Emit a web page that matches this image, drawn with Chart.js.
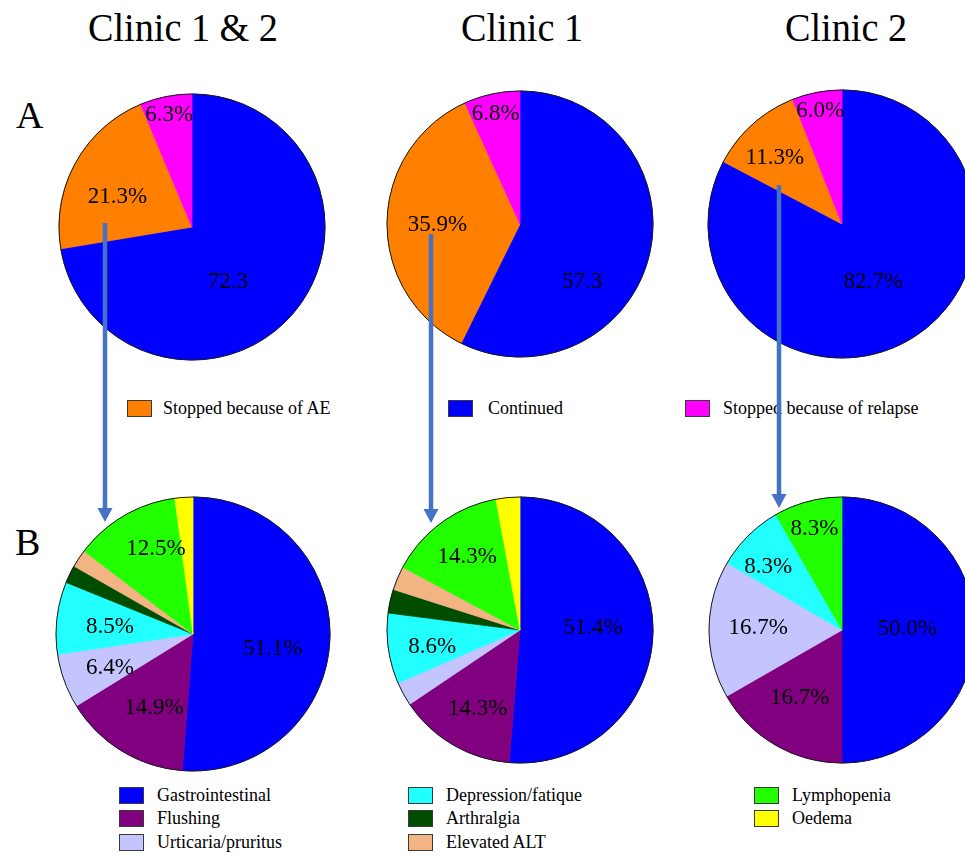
<!DOCTYPE html>
<html>
<head>
<meta charset="utf-8">
<title>Outcome and adverse events by clinic</title>
<script src="https://cdn.jsdelivr.net/npm/chart.js@4.4.1/dist/chart.umd.min.js"></script>
<style>
  html, body { margin: 0; padding: 0; background: #fff; }
  #page { position: relative; width: 965px; height: 854px; overflow: hidden; background: #fff;
          font-family: "Liberation Serif", "Times New Roman", Times, "DejaVu Serif", serif; color: #000; }
  .title { position: absolute; top: 8px; font-size: 40px; line-height: 1; white-space: nowrap;
           transform: translateX(-50%) scaleX(0.955); }
  .panel { position: absolute; font-size: 38px; line-height: 1; }
  .pie { position: absolute; }
  .leg { position: absolute; font-size: 18px; line-height: 1; white-space: nowrap; }
  .leg .sw { position: absolute; width: 23px; height: 15px; border: 1px solid #3a3a3a; }
  .leg .tx { position: absolute; }
  #arrows { position: absolute; left: 0; top: 0; z-index: 5; }
</style>
</head>
<body>
<div id="page"></div>
<script>
// Panel titles
const clinics = ['Clinic 1 & 2', 'Clinic 1', 'Clinic 2'];

// A: treatment outcome
const outcomeCats = ['Continued', 'Stopped because of AE', 'Stopped because of relapse'];
const outcomeBoth = [72.3, 21.3, 6.3];
const outcomeC1 = [57.3, 35.9, 6.8];
const outcomeC2 = [82.7, 11.3, 6.0];
const outcomeTextBoth = ['72.3', '21.3%', '6.3%'];
const outcomeTextC1 = ['57.3', '35.9%', '6.8%'];
const outcomeTextC2 = ['82.7%', '11.3%', '6.0%'];

// B: adverse events leading to discontinuation
const aeCats = ['Gastrointestinal', 'Flushing', 'Urticaria/pruritus', 'Depression/fatique',
                'Arthralgia', 'Elevated ALT', 'Lymphopenia', 'Oedema'];
const aeBoth = [51.1, 14.9, 6.4, 8.5, 2.1, 2.1, 12.5, 2.1];
const aeC1 = [51.4, 14.3, 2.9, 8.6, 2.9, 2.9, 14.3, 2.9];
const aeC2 = [50.0, 16.7, 16.7, 8.3, 0, 0, 8.3, 0];
const aeTextBoth = ['51.1%', '14.9%', '6.4%', '8.5%', '', '', '12.5%', ''];
const aeTextC1 = ['51.4%', '14.3%', '', '8.6%', '', '', '14.3%', ''];
const aeTextC2 = ['50.0%', '16.7%', '16.7%', '8.3%', '', '', '8.3%', ''];

// Colours
const outcomeColors = ['#0000ff', '#ff8000', '#ff00ff'];
const aeColors = ['#0000ff', '#800080', '#c4c4ff', '#22ffff', '#004d00', '#f2b482', '#22ff00', '#ffff00'];

const page = document.getElementById('page');

// Pick a Times-metric serif face if one is installed
function hasFont(name) {
  const c = document.createElement('canvas').getContext('2d');
  const s = 'Clinic 1 & 2 Gastrointestinal';
  c.font = '40px monospace';
  const mono = c.measureText(s).width;
  c.font = `40px "${name}", monospace`;
  return Math.abs(c.measureText(s).width - mono) > 0.5;
}
const serifCandidates = ['Liberation Serif', 'Times New Roman', 'Tinos', 'Nimbus Roman', 'DejaVu Serif', 'Noto Serif'];
const serifFace = serifCandidates.find(hasFont) || 'serif';
const faceCss = `"${serifFace}", serif`;
page.style.fontFamily = faceCss;
// wider faces get squeezed back to Times-like widths
const squeeze = (serifFace === 'DejaVu Serif' || serifFace === 'Noto Serif') ? 0.82 : 1;

// Titles and panel letters
const titleX = [183, 522, 846];
clinics.forEach((t, i) => {
  const d = document.createElement('div');
  d.className = 'title';
  d.style.left = titleX[i] + 'px';
  d.style.transform = `translateX(-50%) scaleX(${0.955 * squeeze})`;
  d.textContent = t;
  page.appendChild(d);
});
[['A', 16, 96], ['B', 15, 523]].forEach(([t, x, y]) => {
  const d = document.createElement('div');
  d.className = 'panel';
  d.style.left = x + 'px';
  d.style.top = y + 'px';
  d.textContent = t;
  page.appendChild(d);
});

// Thin outline around the whole pie
const rimPlugin = {
  id: 'rim',
  afterDatasetsDraw(chart) {
    const arc = chart.getDatasetMeta(0).data[0];
    if (!arc) return;
    const { x, y, outerRadius } = arc.getProps(['x', 'y', 'outerRadius'], true);
    const ctx = chart.ctx;
    ctx.save();
    ctx.beginPath();
    ctx.arc(x, y, outerRadius, 0, Math.PI * 2);
    ctx.lineWidth = 1;
    ctx.strokeStyle = '#1a1a1a';
    ctx.stroke();
    ctx.restore();
  }
};

// Percentage text inside each slice
const sliceTextPlugin = {
  id: 'sliceText',
  afterDatasetsDraw(chart, args, opts) {
    const ctx = chart.ctx;
    const meta = chart.getDatasetMeta(0);
    const size = 23;
    ctx.save();
    ctx.font = `${size}px ${faceCss}`;
    ctx.textAlign = 'center';
    ctx.textBaseline = 'alphabetic';
    ctx.fillStyle = '#000';
    meta.data.forEach((arc, i) => {
      const t = opts.texts[i];
      if (!t) return;
      const p = opts.place[i] || [0.6, 0];
      const { x, y, startAngle, endAngle, outerRadius } =
        arc.getProps(['x', 'y', 'startAngle', 'endAngle', 'outerRadius'], true);
      const ang = (startAngle + endAngle) / 2 + p[1] * Math.PI / 180;
      const rr = outerRadius * p[0];
      ctx.save();
      ctx.translate(x + Math.cos(ang) * rr, y + Math.sin(ang) * rr + 0.34 * size);
      ctx.scale(squeeze, 1);
      ctx.fillText(t, 0, 0);
      ctx.restore();
    });
    ctx.restore();
  }
};

function makePie(cx, cy, r, cats, values, colors, texts, place) {
  const size = Math.ceil(2 * r + 8);
  const c = document.createElement('canvas');
  c.className = 'pie';
  c.width = size;
  c.height = size;
  c.style.width = size + 'px';
  c.style.height = size + 'px';
  c.style.left = (cx - size / 2) + 'px';
  c.style.top = (cy - size / 2) + 'px';
  page.appendChild(c);
  new Chart(c, {
    type: 'pie',
    data: {
      labels: cats,
      datasets: [{
        data: values,
        backgroundColor: colors,
        borderColor: colors,
        borderWidth: ctx => (ctx.raw ? 0.8 : 0),
        radius: r
      }]
    },
    options: {
      responsive: false,
      animation: false,
      events: [],
      layout: { padding: 0 },
      plugins: {
        legend: { display: false },
        tooltip: { enabled: false },
        sliceText: { texts, place }
      }
    },
    plugins: [rimPlugin, sliceTextPlugin]
  });
}

// Row A
makePie(192, 227, 133, outcomeCats, outcomeBoth, outcomeColors, outcomeTextBoth,
        [[0.48, 15.5], [0.61, -5.5], [0.87, 0]]);
makePie(520, 224, 133, outcomeCats, outcomeC1, outcomeColors, outcomeTextC1,
        [[0.63, 29], [0.62, 0], [0.86, 0]]);
makePie(842, 224, 134, outcomeCats, outcomeC2, outcomeColors, outcomeTextC2,
        [[0.48, 2], [0.71, -3], [0.87, 0]]);

// Row B
makePie(193, 634, 137, aeCats, aeBoth, aeColors, aeTextBoth,
        [[0.59, 7], [0.6, -3], [0.65, -1], [0.61, -1], null, null, [0.69, 7], null]);
makePie(520, 630, 133, aeCats, aeC1, aeColors, aeTextC1,
        [[0.55, -5], [0.66, -1.5], null, [0.67, -2], null, null, [0.69, 1], null]);
makePie(842, 630, 133, aeCats, aeC2, aeColors, aeTextC2,
        [[0.49, -2.6], [0.59, 2.5], [0.63, 2.7], [0.74, -3.7], null, null, [0.8, 0], null]);

// Legends
function legendItem(x, y, color, label, textGap) {
  const d = document.createElement('div');
  d.className = 'leg';
  d.style.left = x + 'px';
  d.style.top = y + 'px';
  const sw = document.createElement('span');
  sw.className = 'sw';
  sw.style.left = '0px';
  sw.style.top = '0px';
  sw.style.background = color;
  const tx = document.createElement('span');
  tx.className = 'tx';
  tx.style.left = textGap + 'px';
  tx.style.top = '-1px';
  tx.style.transformOrigin = '0 50%';
  tx.style.transform = `scaleX(${squeeze})`;
  tx.textContent = label;
  d.appendChild(sw);
  d.appendChild(tx);
  page.appendChild(d);
}

// Row A legend: AE, continued, relapse
const legendAOrder = [1, 0, 2];
const legendAX = [127, 448, 685];
const legendAGap = [36, 40, 38];
legendAOrder.forEach((k, i) => legendItem(legendAX[i], 400, outcomeColors[k], outcomeCats[k], legendAGap[i]));

// Row B legend: three columns
const legendBCols = [[0, 1, 2], [3, 4, 5], [6, 7]];
const legendBX = [119, 408, 754];
const legendBY = [787, 810, 834];
legendBCols.forEach((col, ci) => col.forEach((k, ri) =>
  legendItem(legendBX[ci], legendBY[ri], aeColors[k], aeCats[k], 38)));

// Arrows linking the AE slice of each outcome pie to its breakdown
const svgNS = 'http://www.w3.org/2000/svg';
const svg = document.createElementNS(svgNS, 'svg');
svg.setAttribute('id', 'arrows');
svg.setAttribute('width', '965');
svg.setAttribute('height', '854');
const arrowDefs = [[105, 223, 522], [431, 234, 523], [779, 185, 508]];
arrowDefs.forEach(([x, y0, y1]) => {
  const ln = document.createElementNS(svgNS, 'line');
  ln.setAttribute('x1', x); ln.setAttribute('x2', x);
  ln.setAttribute('y1', y0); ln.setAttribute('y2', y1 - 12);
  ln.setAttribute('stroke', '#4472c4');
  ln.setAttribute('stroke-width', '4.5');
  svg.appendChild(ln);
  const hd = document.createElementNS(svgNS, 'polygon');
  hd.setAttribute('points', `${x - 7.5},${y1 - 14} ${x + 7.5},${y1 - 14} ${x},${y1}`);
  hd.setAttribute('fill', '#4472c4');
  svg.appendChild(hd);
});
page.appendChild(svg);
</script>
</body>
</html>
